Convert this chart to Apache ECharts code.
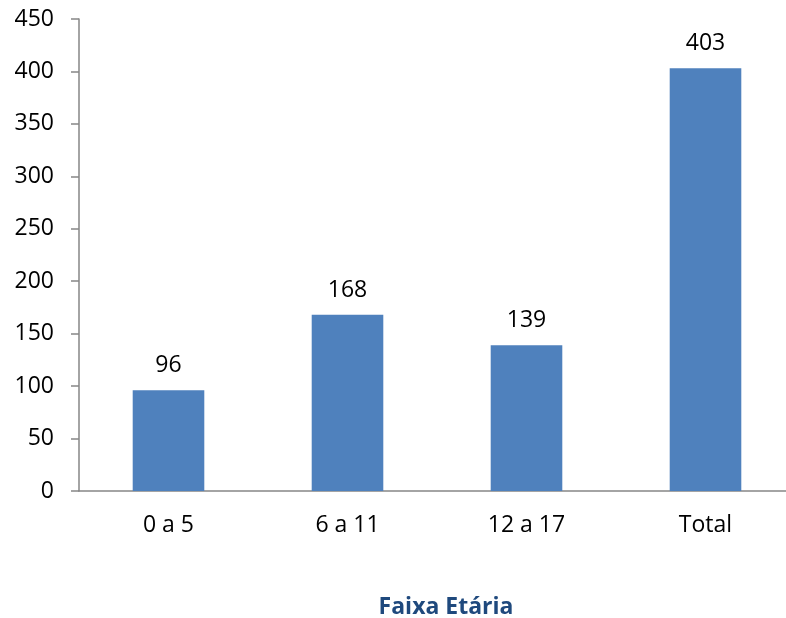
<!DOCTYPE html>
<html>
<head>
<meta charset="utf-8">
<script src="https://cdn.jsdelivr.net/npm/echarts@6/dist/echarts.min.js"></script>
<style>
  html, body { margin: 0; padding: 0; background: #fff; }
  #chart { width: 786px; height: 618px; }
</style>
</head>
<body>
<div id="chart"></div>
<script>
// faixas etárias e contagens
const categories = ['0 a 5', '6 a 11', '12 a 17', 'Total'];
const values = [96, 168, 139, 403];
const axisTitle = 'Faixa Etária';

const font = "'Open Sans', 'Liberation Sans', sans-serif";
const axisColor = '#868686';

const chart = echarts.init(document.getElementById('chart'));
chart.setOption({
  animation: false,
  textStyle: { fontFamily: font },
  title: {
    text: axisTitle,
    left: 441,
    textAlign: 'center',
    top: 591,
    textStyle: { fontFamily: font, fontSize: 23, fontWeight: 'bold', color: '#1F497D' }
  },
  // o eixo x passa da borda direita, como no original
  grid: { left: 79, top: 19, width: 716, height: 472, outerBoundsMode: 'none' },
  xAxis: {
    type: 'category',
    data: categories,
    axisLine: { lineStyle: { color: axisColor, width: 1.5 } },
    axisTick: { length: 7, lineStyle: { color: axisColor, width: 1.5 } },
    axisLabel: { fontSize: 23, color: '#000', margin: 23, fontFamily: font }
  },
  yAxis: {
    type: 'value',
    min: 0,
    max: 450,
    interval: 50,
    splitLine: { show: false },
    axisLine: { show: true, lineStyle: { color: axisColor, width: 1.5 } },
    axisTick: { show: true, length: 8, lineStyle: { color: axisColor, width: 1.5 } },
    axisLabel: { fontSize: 23, color: '#000', margin: 25, fontFamily: font }
  },
  series: [{
    type: 'bar',
    data: values,
    barWidth: '40%',
    itemStyle: { color: '#4F81BD' },
    label: {
      show: true,
      position: 'top',
      distance: 13,
      fontSize: 23,
      color: '#000',
      fontFamily: font
    }
  }]
});
</script>
</body>
</html>
